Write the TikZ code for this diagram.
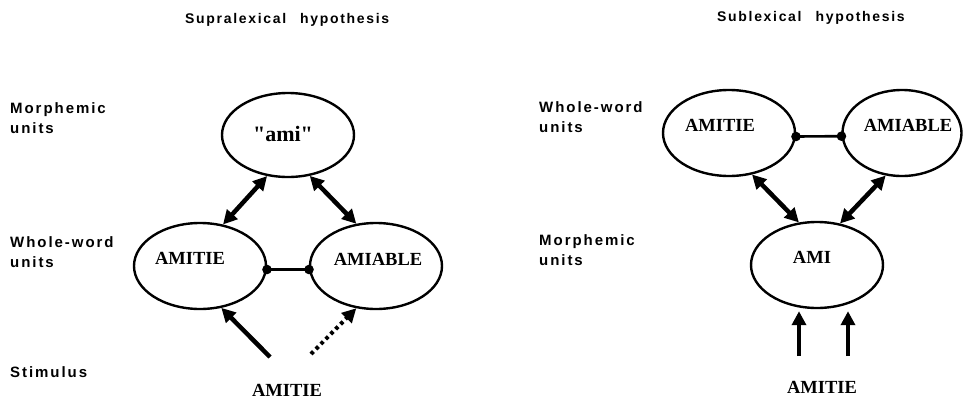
\documentclass[tikz,border=0pt]{standalone}
\usepackage{fontspec}
\usetikzlibrary{shapes.geometric,arrows.meta}
\newfontfamily\labfont[LetterSpace=13,UprightFont={* Bold},BoldFont={* Bold}]{Liberation Sans}
\newfontfamily\titfont[LetterSpace=12,UprightFont={* Bold},BoldFont={* Bold}]{Liberation Sans}
\newfontfamily\nodfont[UprightFont={* Bold},BoldFont={* Bold}]{Liberation Serif}
\begin{document}
\begin{tikzpicture}[x=1pt,y=-1pt,
  unit/.style={draw,ellipse,line width=2.4pt,minimum width=132pt,minimum height=86pt,inner sep=0pt},
  wordtxt/.style={font=\nodfont\fontsize{18.5}{20}\selectfont},
  bigtxt/.style={font=\nodfont\fontsize{22}{24}\selectfont},
  sidelab/.style={anchor=west,align=left,inner sep=0pt,font=\labfont\fontsize{15}{20.5}\selectfont},
  title/.style={anchor=west,inner sep=0pt,font=\titfont\fontsize{14}{15}\selectfont},
  bigarrow/.style={line width=4.5pt,-{Triangle[length=14pt,width=14pt]}},
  dblarrow/.style={line width=4.5pt,{Triangle[length=14pt,width=14pt]}-{Triangle[length=14pt,width=14pt]}},
  dotarrow/.style={line width=4pt,dash pattern=on 3.5pt off 3.5pt,-{Triangle[length=14pt,width=14pt]}},
  link/.style={line width=2.6pt},
  dot/.style={fill=black,draw=none}]
\useasboundingbox (0,0) rectangle (964,399);

% ---------- Left: supralexical ----------
\node[title] (t1) at (185,20) {Supralexical\hspace{14pt}hypothesis};
\node[sidelab] (l1) at (10,118) {Morphemic\\units};
\node[sidelab] (l2) at (10,252) {Whole-word\\units};
\node[sidelab] (l3) at (10,372) {Stimulus};

\node[unit,minimum height=84pt,label={[bigtxt,xshift=-5pt,yshift=1pt]center:"ami"}] (ami) at (288,135) {};
\node[unit,label={[wordtxt,xshift=-10pt,yshift=8pt]center:AMITIE}] (w1) at (200,266) {};
\node[unit,label={[wordtxt,xshift=2pt,yshift=7pt]center:AMIABLE}] (w2) at (376,266) {};
\node[wordtxt] (s1) at (287,390) {AMITIE};

\draw[dblarrow] (ami.243) -- (w1.61);
\draw[dblarrow] (ami.298) -- (w2.115);
\draw[link] (w1.-3) -- (w2.183);
\fill[dot] (w1.-3) circle (4.8pt);
\fill[dot] (w2.183) circle (4.8pt);

\coordinate (c1) at (270,357);
\coordinate (c2) at (311,354);
\draw[bigarrow] (c1) -- (w1.297);
\draw[dotarrow] (c2) -- (w2.245);

% ---------- Right: sublexical ----------
\node[title] (t2) at (717,18) {Sublexical\hspace{14pt}hypothesis};
\node[sidelab] (l4) at (539,117) {Whole-word\\units};
\node[sidelab] (l5) at (539,250) {Morphemic\\units};

\node[unit,label={[wordtxt,xshift=-9pt,yshift=8pt]center:AMITIE}] (r1) at (729,133) {};
\node[unit,minimum width=119pt,label={[wordtxt,xshift=6pt,yshift=8pt]center:AMIABLE}] (r2) at (902,133) {};
\node[unit,label={[wordtxt,xshift=-5pt,yshift=8pt]center:AMI}] (r3) at (817,265) {};
\node[wordtxt] (s2) at (822,387) {AMITIE};

\draw[link] (r1.-3) -- (r2.183);
\fill[dot] (r1.-3) circle (4.8pt);
\fill[dot] (r2.183) circle (4.8pt);

\draw[dblarrow] (r1.299) -- (r3.113);
\draw[dblarrow] (r2.249) -- (r3.61);

\coordinate (c3) at (799,356);
\coordinate (c4) at (848,356);
\draw[bigarrow,shorten >=2pt] (c3) -- (c3 |- r3.south);
\draw[bigarrow,shorten >=2pt] (c4) -- (c4 |- r3.south);
\end{tikzpicture}
\end{document}
